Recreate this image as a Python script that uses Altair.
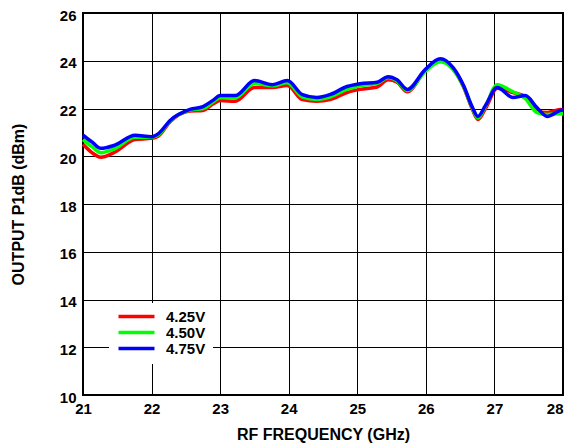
import altair as alt
import pandas as pd

freq = [21.0, 21.13, 21.26, 21.45, 21.76, 22.0, 22.1, 22.27, 22.56, 22.75, 22.9, 23.0,
        23.22, 23.5, 23.76, 23.98, 24.2, 24.41, 24.6, 24.85, 25.04, 25.29, 25.45, 25.58,
        25.73, 25.99, 26.21, 26.4, 26.55, 26.68, 26.76, 26.87, 27.04, 27.27, 27.45, 27.62,
        27.77, 27.96, 28.0]

p_425 = [20.5, 20.15, 19.96, 20.15, 20.7, 20.75, 20.85, 21.45, 21.9, 21.92, 22.2, 22.33,
         22.3, 22.88, 22.88, 22.96, 22.37, 22.3, 22.37, 22.67, 22.8, 22.9, 23.2, 23.1,
         22.7, 23.58, 24.0, 23.65, 22.9, 21.95, 21.54, 22.0, 22.85, 22.67, 22.5, 21.88,
         21.83, 21.96, 21.95]

p_450 = [20.7, 20.4, 20.15, 20.3, 20.8, 20.8, 20.9, 21.48, 21.93, 22.0, 22.28, 22.45,
         22.45, 23.05, 22.95, 23.08, 22.48, 22.38, 22.48, 22.8, 22.95, 23.05, 23.3, 23.15,
         22.75, 23.55, 23.96, 23.62, 22.92, 22.0, 21.6, 22.1, 23.0, 22.7, 22.42, 21.83,
         21.75, 21.78, 21.78]

p_475 = [20.88, 20.6, 20.33, 20.45, 20.88, 20.82, 20.95, 21.5, 21.96, 22.08, 22.35, 22.54,
         22.54, 23.17, 23.0, 23.17, 22.58, 22.46, 22.58, 22.92, 23.04, 23.1, 23.33, 23.2,
         22.8, 23.63, 24.08, 23.7, 22.96, 22.04, 21.67, 22.13, 22.88, 22.46, 22.54, 22.04,
         21.67, 21.92, 21.95]

series = ["4.25V", "4.50V", "4.75V"]
colors = ["#FF0000", "#00FF00", "#0000FF"]
x_ticks = [21, 22, 23, 24, 25, 26, 27, 28]
y_ticks = [10, 12, 14, 16, 18, 20, 22, 24, 26]

rows = []
for name, vals in zip(series, [p_425, p_450, p_475]):
    for f, v in zip(freq, vals):
        rows.append({"freq": f, "p1db": v, "supply": name})
df = pd.DataFrame(rows)

FONT = "Liberation Sans"

chart = alt.Chart(df).mark_line(interpolate="monotone", strokeWidth=3.5).encode(
    x=alt.X("freq:Q", scale=alt.Scale(domain=[21, 28], nice=False),
            axis=alt.Axis(values=x_ticks, title="RF FREQUENCY (GHz)", format="d",
                          titleX=240, titleY=39, titleBaseline="middle",
                          labelAlign={"condition": {"test": "datum.value == 28", "value": "right"},
                                      "value": "center"})),
    y=alt.Y("p1db:Q", scale=alt.Scale(domain=[10, 26], nice=False),
            axis=alt.Axis(values=y_ticks, title="OUTPUT P1dB (dBm)", format="d",
                          titleX=-65, titleY=191, titleBaseline="middle")),
    color=alt.Color("supply:N", scale=alt.Scale(domain=series, range=colors),
                    legend=alt.Legend(title=None, orient="none", legendX=26, legendY=290)),
).properties(
    width=480, height=382,
    autosize=alt.AutoSizeParams(type="none"),
    padding={"left": 75, "top": 5, "right": 1, "bottom": 49},
).configure_view(
    stroke="black", strokeWidth=2
).configure_axis(
    grid=True, gridColor="black", gridWidth=1, gridOpacity=1,
    domain=False, ticks=False,
    labelFont=FONT, labelFontWeight="bold", labelFontSize=15, labelColor="black",
    titleFont=FONT, titleFontWeight="bold", titleFontSize=16, titleColor="black",
).configure_axisY(
    labelPadding=7, labelBaseline="middle", labelOffset=2
).configure_axisX(
    labelPadding=6, labelFlush=False
).configure_legend(
    fillColor="white", padding=6, symbolType="M-4.5,0H4.5", symbolSize=64,
    symbolOffset=14, symbolStrokeWidth=3.5, labelFont=FONT, labelFontWeight="bold",
    labelFontSize=15, labelColor="black", labelOffset=22, rowPadding=0,
    strokeColor="white",
)

chart.save("out.html", embed_options={"renderer": "svg", "actions": False})
